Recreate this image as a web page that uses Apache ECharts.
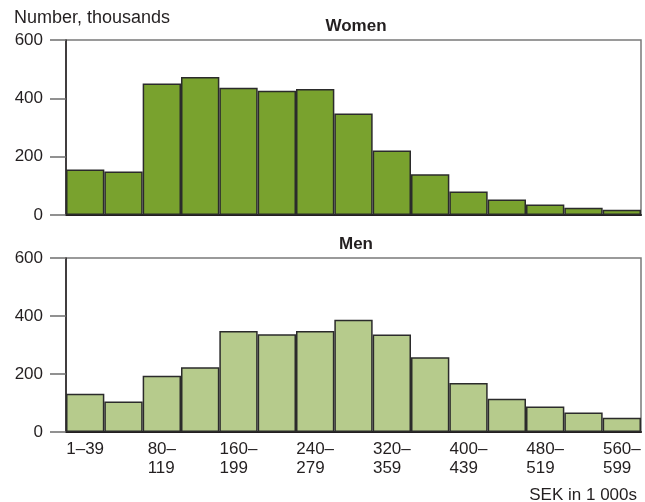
<!DOCTYPE html>
<html>
<head>
<meta charset="utf-8">
<title>Income distribution by sex</title>
<script src="https://cdn.jsdelivr.net/npm/echarts@6/dist/echarts.min.js"></script>
<style>
  html, body { margin: 0; padding: 0; background: #ffffff; }
  #chart { width: 645px; height: 502px; }
</style>
</head>
<body>
<div id="chart"></div>
<script>
// Income bands, SEK in 1 000s
const incomeBands = [
  '1–39', '40–79', '80–119', '120–159', '160–199', '200–239', '240–279',
  '280–319', '320–359', '360–399', '400–439', '440–479', '480–519',
  '520–559', '560–599'
];

// Number of people, thousands
const women = [156, 149, 451, 473, 436, 426, 432, 348, 221, 140, 81, 53, 36, 25, 18];
const men   = [132, 105, 194, 223, 348, 337, 348, 387, 336, 258, 169, 115, 88, 67, 49];

const yTicks = { min: 0, max: 600, interval: 200 };

const FONT = '"Liberation Sans", Arial, sans-serif';
const TEXT = '#231f20';
const SIZE = 17;

// Two-line band labels, both lines flush left inside a centred block
function bandLabel(value, idx) {
  if (idx === 0) return '{a|' + value + '}';
  const parts = value.split('–');
  return '{a|' + parts[0] + '–}\n{a|' + parts[1] + '}';
}

const chart = echarts.init(document.getElementById('chart'), null, { renderer: 'canvas' });

const gridCommon = {
  left: 66, right: 4,
  show: true,
  borderColor: '#7a7a7a',
  borderWidth: 1.5,
  backgroundColor: 'transparent'
};

function yAxis(gridIndex) {
  return {
    type: 'value', gridIndex,
    min: yTicks.min, max: yTicks.max, interval: yTicks.interval,
    splitLine: { show: false },
    axisLine: { show: true, lineStyle: { color: '#231f20', width: 1.5 } },
    axisTick: { show: true, length: 16, lineStyle: { color: '#6d6d6d', width: 1.5 } },
    axisLabel: { margin: 23, color: TEXT, fontFamily: FONT, fontSize: SIZE }
  };
}

function barSeries(name, data, color, idx) {
  return {
    name, type: 'bar', data,
    xAxisIndex: idx, yAxisIndex: idx,
    barCategoryGap: 0,
    itemStyle: { color, borderColor: '#2b2b2b', borderWidth: 1.5 },
    animation: false
  };
}

const titleText = { fontFamily: FONT, fontSize: SIZE, fontWeight: 'normal', color: TEXT };
const headText = { fontFamily: FONT, fontSize: SIZE, fontWeight: 'bold', color: TEXT };

chart.setOption({
  animation: false,
  title: [
    { text: 'Number, thousands', left: 14, top: 9, padding: 0,
      textStyle: Object.assign({}, titleText, { fontSize: 18 }) },
    { text: 'Women', left: 356, top: 18, padding: 0, textAlign: 'center', textStyle: headText },
    { text: 'Men', left: 356, top: 236, padding: 0, textAlign: 'center', textStyle: headText },
    { text: 'SEK in 1 000s', right: 8, top: 487, padding: 0, textStyle: titleText }
  ],
  grid: [
    Object.assign({ top: 40, height: 175 }, gridCommon),
    Object.assign({ top: 258, height: 174 }, gridCommon)
  ],
  xAxis: [
    {
      type: 'category', gridIndex: 0, data: incomeBands,
      axisLine: { show: true, lineStyle: { color: '#231f20', width: 2 } },
      axisTick: { show: false },
      axisLabel: { show: false }
    },
    {
      type: 'category', gridIndex: 1, data: incomeBands,
      axisLine: { show: true, lineStyle: { color: '#231f20', width: 2 } },
      axisTick: { show: false },
      axisLabel: {
        interval: 1, margin: 8, color: TEXT, fontFamily: FONT, fontSize: SIZE,
        lineHeight: 19, formatter: bandLabel,
        rich: {
          a: { align: 'left', color: TEXT, fontFamily: FONT, fontSize: SIZE, lineHeight: 19 }
        }
      }
    }
  ],
  yAxis: [yAxis(0), yAxis(1)],
  series: [
    barSeries('Women', women, '#79a22e', 0),
    barSeries('Men', men, '#b6cb8c', 1)
  ]
});
</script>
</body>
</html>
